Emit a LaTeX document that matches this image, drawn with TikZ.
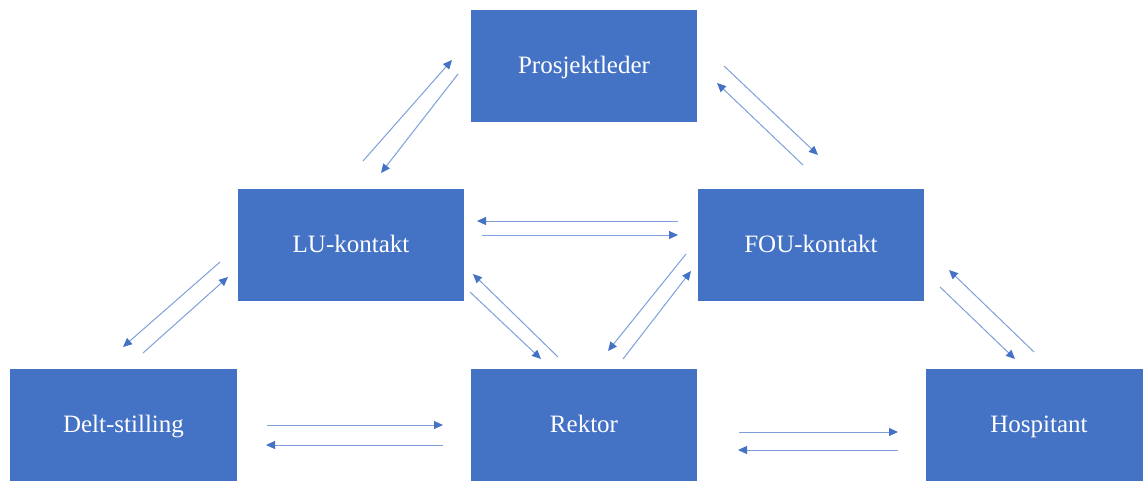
\documentclass[tikz,border=0pt]{standalone}
\usepackage{fontspec}
\setmainfont{Liberation Serif}
\usetikzlibrary{calc,arrows.meta}
\definecolor{boxblue}{HTML}{4472C4}
\definecolor{linkblue}{HTML}{7F9FDA}
\tikzset{
  role/.style={rectangle, fill=boxblue, draw=none, minimum width=226pt, minimum height=112pt,
    inner sep=0pt, text=white, text height=18.5pt, text depth=3.5pt,
    font=\fontsize{25}{30}\selectfont},
  link/.style={draw=linkblue, line width=1pt,
    -{Triangle[length=9pt,width=8pt,color=boxblue]}},
}
\begin{document}
\begin{tikzpicture}[x=1pt,y=-1pt]
  \useasboundingbox (0,0) rectangle (1143,480);
  \clip (0,0) rectangle (1143,480);
  % organisation boxes
  \node[role] (pl)   at (584,66)    {Prosjektleder};
  \node[role] (lu)   at (351,245)   {LU-kontakt};
  \node[role] (fou)  at (811,245)   {FOU-kontakt};
  \node[role, minimum width=227pt] (delt) at (123.5,425) {Delt-stilling};
  \node[role] (rek)  at (584,425)   {Rektor};
  \node[role] (hos)  at (1039,425)  {Hospitant};

  % Prosjektleder <-> LU-kontakt
  \draw[link] ($(lu)+(12,-84)$) -- ($(pl)+(-132,-6)$);
  \draw[link] ($(pl)+(-126,8)$) -- ($(lu)+(30,-72)$);
  % Prosjektleder <-> FOU-kontakt
  \draw[link] ($(pl)+(140,0)$) -- ($(fou)+(7,-90)$);
  \draw[link] ($(fou)+(-8,-80)$) -- ($(pl)+(133,17)$);
  % LU-kontakt <-> FOU-kontakt
  \draw[link] ($(fou)+(-133,-24)$) -- ($(lu)+(126,-24)$);
  \draw[link] ($(lu)+(131,-10)$) -- ($(fou)+(-133,-10)$);
  % LU-kontakt <-> Delt-stilling
  \draw[link] ($(lu)+(-131,17)$) -- ($(delt)+(-0.5,-78)$);
  \draw[link] ($(delt)+(19.5,-72)$) -- ($(lu)+(-123,32)$);
  % Delt-stilling <-> Rektor
  \draw[link] ($(delt)+(143.5,0)$) -- ($(rek)+(-141,0)$);
  \draw[link] ($(rek)+(-141,20)$) -- ($(delt)+(142.5,20)$);
  % Rektor <-> Hospitant
  \draw[link] ($(rek)+(155,7)$) -- ($(hos)+(-141,7)$);
  \draw[link] ($(hos)+(-141,25)$) -- ($(rek)+(154,25)$);
  % FOU-kontakt <-> Hospitant
  \draw[link] ($(hos)+(-5,-73)$) -- ($(fou)+(138,25)$);
  \draw[link] ($(fou)+(129,42)$) -- ($(hos)+(-24,-66)$);
  % LU-kontakt <-> Rektor
  \draw[link] ($(rek)+(-26,-68)$) -- ($(lu)+(122,29)$);
  \draw[link] ($(lu)+(119,47)$) -- ($(rek)+(-43,-66)$);
  % FOU-kontakt <-> Rektor
  \draw[link] ($(fou)+(-125,9)$) -- ($(rek)+(24,-74)$);
  \draw[link] ($(rek)+(39,-66)$) -- ($(fou)+(-120,26)$);
\end{tikzpicture}
\end{document}
